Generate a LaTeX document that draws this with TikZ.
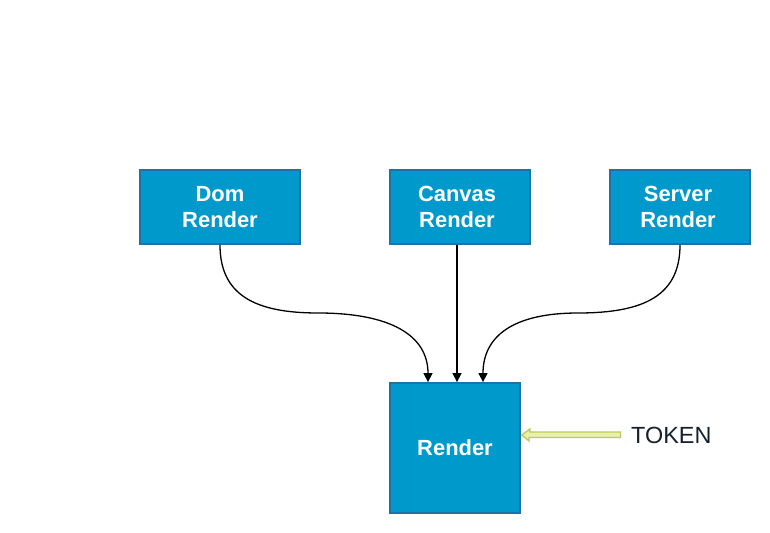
\documentclass[tikz,border=0pt]{standalone}
\usepackage{fontspec}
\setmainfont{Liberation Sans}
\usetikzlibrary{arrows.meta}
\definecolor{boxfill}{HTML}{0099CC}
\definecolor{boxline}{HTML}{1D72A6}
\definecolor{tokfill}{HTML}{EBF0A8}
\definecolor{tokline}{HTML}{BCCB5E}
\definecolor{tokentext}{HTML}{14202E}
\begin{document}
\begin{tikzpicture}[x=1bp,y=-1bp,
  blockbox/.style={draw=boxline,line width=1.8bp,fill=boxfill,text=white,
    inner sep=0pt,align=center,font=\fontsize{22}{26}\selectfont\bfseries},
  conn/.style={line width=1.3bp,-{Triangle[length=9bp,width=9bp]}}]
\useasboundingbox (0,0) rectangle (770,533);
\node[blockbox,minimum width=160bp,minimum height=74bp] (dom) at (220,207) {Dom\\Render};
\node[blockbox,minimum width=140bp,minimum height=74bp] (canvas) at (460,207) {\hspace*{-6bp}Canvas\\\hspace*{-6bp}Render};
\node[blockbox,minimum width=140bp,minimum height=74bp] (server) at (680,207) {\hspace*{-4bp}Server\\\hspace*{-4bp}Render};
\node[blockbox,minimum width=130bp,minimum height=130bp] (render) at (455,448) {Render};
\node[text=tokentext,font=\fontsize{23.5}{27}\selectfont,anchor=west,inner sep=0pt] (token) at (631,435) {TOKEN};
\coordinate (m1) at (318,313);
\coordinate (m2) at (578,313);
\draw[conn] (dom.south) .. controls (220,295) and (255,313) .. (m1)
  .. controls (390,313) and (428,335) .. ([xshift=-27bp]render.north);
\draw[conn] ([xshift=2bp]render.north |- canvas.south) -- ([xshift=2bp]render.north);
\draw[conn] (server.south) .. controls (680,295) and (645,313) .. (m2)
  .. controls (515,313) and (483,335) .. ([xshift=28bp]render.north);
% hollow token arrow
\coordinate (tipA) at ([xshift=1bp,yshift=13bp]render.east);
\draw[tokline,fill=tokfill,line width=1.4bp,line join=miter]
  (tipA) -- ++(8,-6) -- ++(0,3) -- (620.5,432) -- (620.5,437.5) -- ++(-91.5,0) -- ++(0,3.5) -- cycle;
\end{tikzpicture}
\end{document}
